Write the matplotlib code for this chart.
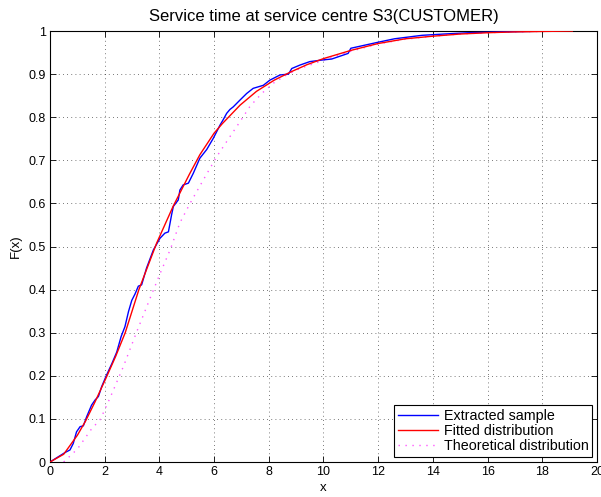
import matplotlib
matplotlib.use("Agg")
import matplotlib.pyplot as plt

plt.rcParams["font.family"] = ["Liberation Sans", "DejaVu Sans"]

sample_x = [0.0, 0.30, 0.55, 0.73, 0.85, 0.97, 1.10, 1.22, 1.34, 1.52, 1.65, 1.77,
            1.89, 2.07, 2.26, 2.44, 2.60, 2.74, 2.87, 2.99, 3.11, 3.23, 3.35, 3.53,
            3.78, 4.02, 4.20, 4.33, 4.45, 4.51, 4.69, 4.75, 4.87, 5.06, 5.24, 5.48,
            5.73, 5.97, 6.22, 6.34, 6.46, 6.58, 6.70, 6.95, 7.19, 7.43, 7.80, 8.04,
            8.41, 8.72, 8.84, 9.14, 9.50, 9.99, 10.3, 10.9, 11.0, 12.0, 12.6, 13.6,
            14.4, 15.3, 16.5, 18.4]
sample_F = [0.0, 0.012, 0.022, 0.028, 0.043, 0.070, 0.082, 0.084, 0.105, 0.132, 0.144, 0.152,
            0.175, 0.202, 0.228, 0.255, 0.291, 0.314, 0.349, 0.375, 0.390, 0.408, 0.411, 0.450,
            0.492, 0.519, 0.531, 0.534, 0.575, 0.593, 0.608, 0.631, 0.643, 0.647, 0.670, 0.705,
            0.725, 0.751, 0.782, 0.795, 0.809, 0.818, 0.824, 0.840, 0.855, 0.867, 0.874, 0.886,
            0.898, 0.900, 0.913, 0.921, 0.929, 0.933, 0.935, 0.948, 0.960, 0.974, 0.982, 0.990,
            0.993, 0.996, 0.998, 1.0]

# Fitted distribution
fit_x = [0.0, 0.5, 1.0, 1.3, 1.65, 2.05, 2.4, 2.75, 3.15, 3.25, 3.9, 4.5, 5.1, 5.48, 6.0,
         6.3, 6.95, 7.55, 8.2, 8.8, 9.4, 10.0, 11.0, 12.0, 13.0, 14.0, 15.0, 16.0, 17.0, 18.0,
         19.1]
fit_F = [0.0, 0.018, 0.062, 0.095, 0.140, 0.195, 0.245, 0.30, 0.38, 0.40, 0.508, 0.593, 0.668,
         0.713, 0.763, 0.785, 0.828, 0.860, 0.886, 0.905, 0.922, 0.936, 0.955, 0.971, 0.982,
         0.988, 0.993, 0.996, 0.998, 0.999, 1.0]

# Theoretical distribution
theo_x = [0.5, 1.0, 1.5, 1.85, 2.19, 2.68, 3.17, 3.66, 4.03, 4.39, 4.75, 5.12, 5.61, 6.1,
          6.58, 6.95, 7.31, 7.74, 8.17, 8.65, 9.14, 9.95, 11.0, 12.0, 13.0, 14.0, 15.0, 16.0,
          17.0, 18.0, 19.1]
theo_F = [0.0, 0.03, 0.075, 0.10, 0.148, 0.221, 0.302, 0.380, 0.438, 0.492, 0.555, 0.600,
          0.655, 0.709, 0.755, 0.790, 0.825, 0.855, 0.879, 0.898, 0.913, 0.931, 0.953, 0.970,
          0.981, 0.988, 0.993, 0.996, 0.998, 0.999, 1.0]

fig = plt.figure(figsize=(6.01, 4.97), dpi=100)
ax = fig.add_axes([0.0832, 0.0704, 0.9101, 0.8672])

ax.plot(theo_x, theo_F, color="#FF55FF", linewidth=1.0, linestyle=(0, (1, 4)),
        label="Theoretical distribution", zorder=2)
ax.plot(sample_x, sample_F, color="#0000FF", linewidth=1.0, label="Extracted sample", zorder=3)
ax.plot(fit_x, fit_F, color="#FF0000", linewidth=1.0, label="Fitted distribution", zorder=4)

ax.set_xlim(0, 20)
ax.set_ylim(0, 1)
ax.set_xticks(range(0, 21, 2))
ax.set_yticks([i / 10 for i in range(11)])
ax.set_yticklabels(["0", "0.1", "0.2", "0.3", "0.4", "0.5", "0.6", "0.7", "0.8", "0.9", "1"])

ax.grid(True, color="black", linestyle=(0, (1, 4)), linewidth=0.6, alpha=0.7)
ax.tick_params(direction="in", top=True, right=True, labelsize=9, length=4, width=0.6, pad=3)
for s in ax.spines.values():
    s.set_linewidth(0.8)

ax.set_title("Service time at service centre S3(CUSTOMER)", fontsize=12, pad=7)
ax.set_xlabel("x", fontsize=9.5, labelpad=3)
ax.set_ylabel("F(x)", fontsize=9.5, labelpad=5)

handles, labels = ax.get_legend_handles_labels()
order = [1, 2, 0]
legend = ax.legend([handles[i] for i in order], [labels[i] for i in order],
                   loc="lower right", fontsize=10.3, fancybox=False, framealpha=1,
                   edgecolor="black", borderaxespad=0.35, handlelength=2.8,
                   labelspacing=0.1, borderpad=0.25, handletextpad=0.4)
legend.get_frame().set_linewidth(0.8)

fig.savefig("out.png", dpi=100)
